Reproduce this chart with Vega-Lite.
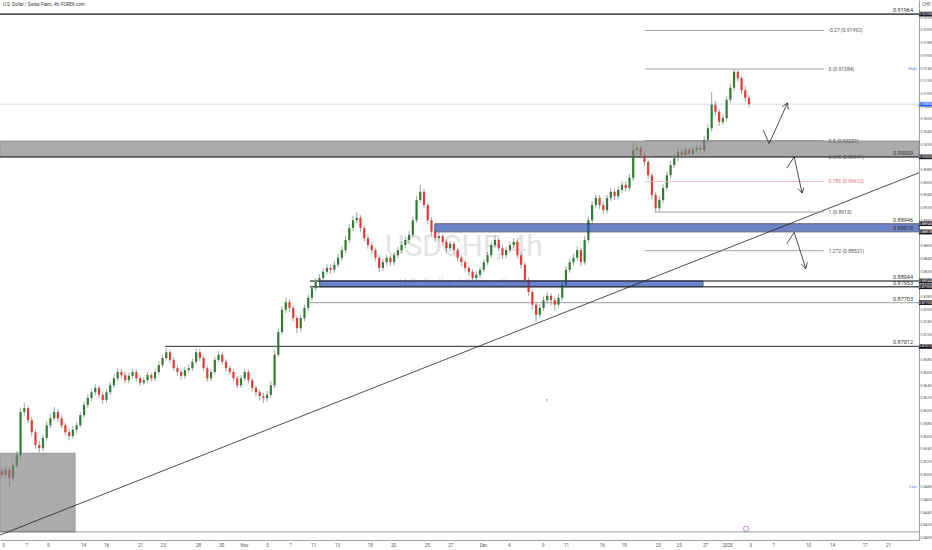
{
"$schema":"https://vega.github.io/schema/vega-lite/v6.json",
"width":919,"height":540,
"autosize":{"type":"none"},
"padding":{"left":0,"top":0,"right":13,"bottom":10},
"background":"#ffffff",
"resolve":{"scale":{"color":"independent","size":"independent","strokeDash":"independent"}},
"config":{"view":{"stroke":null},"font":"Roboto",
 "axis":{"grid":false,"ticks":false,"labelColor":"#555555","domainColor":"#888888","domainWidth":0.8,"labelOverlap":false,"labelFlush":false,"labelFontSize":4.5,"labelPadding":2},
 "axisY":{"labelFontSize":3.5,"labelPadding":1,"titleAngle":0,"titleFontSize":4.5,"titleFontWeight":"normal","titleColor":"#555555","titleX":7,"titleY":4,"titleAlign":"center","titleBaseline":"middle"}},
"datasets":{
"candles":[
{"i":0,"o":0.8505,"h":0.8510,"l":0.8494,"c":0.8499},
{"i":1,"o":0.8499,"h":0.8512,"l":0.8493,"c":0.8507},
{"i":2,"o":0.8507,"h":0.8510,"l":0.8480,"c":0.8494},
{"i":3,"o":0.8494,"h":0.8518,"l":0.8490,"c":0.8514},
{"i":4,"o":0.8514,"h":0.8536,"l":0.8510,"c":0.8530},
{"i":5,"o":0.8530,"h":0.8605,"l":0.8526,"c":0.8598},
{"i":6,"o":0.8598,"h":0.8612,"l":0.8592,"c":0.8604},
{"i":7,"o":0.8604,"h":0.8608,"l":0.8580,"c":0.8585},
{"i":8,"o":0.8585,"h":0.8590,"l":0.8560,"c":0.8566},
{"i":9,"o":0.8566,"h":0.8570,"l":0.8540,"c":0.8546},
{"i":10,"o":0.8546,"h":0.8552,"l":0.8534,"c":0.8541},
{"i":11,"o":0.8541,"h":0.8562,"l":0.8536,"c":0.8557},
{"i":12,"o":0.8557,"h":0.8583,"l":0.8553,"c":0.8577},
{"i":13,"o":0.8577,"h":0.8594,"l":0.8572,"c":0.8588},
{"i":14,"o":0.8588,"h":0.8606,"l":0.8584,"c":0.8598},
{"i":15,"o":0.8598,"h":0.8602,"l":0.8582,"c":0.8588},
{"i":16,"o":0.8588,"h":0.8592,"l":0.8572,"c":0.8577},
{"i":17,"o":0.8577,"h":0.8581,"l":0.8561,"c":0.8566},
{"i":18,"o":0.8566,"h":0.8571,"l":0.8553,"c":0.8560},
{"i":19,"o":0.8560,"h":0.8576,"l":0.8556,"c":0.8570},
{"i":20,"o":0.8570,"h":0.8582,"l":0.8565,"c":0.8577},
{"i":21,"o":0.8577,"h":0.8598,"l":0.8573,"c":0.8593},
{"i":22,"o":0.8593,"h":0.8614,"l":0.8589,"c":0.8609},
{"i":23,"o":0.8609,"h":0.8626,"l":0.8604,"c":0.8620},
{"i":24,"o":0.8620,"h":0.8635,"l":0.8615,"c":0.8629},
{"i":25,"o":0.8629,"h":0.8642,"l":0.8624,"c":0.8636},
{"i":26,"o":0.8636,"h":0.8640,"l":0.8620,"c":0.8625},
{"i":27,"o":0.8625,"h":0.8630,"l":0.8611,"c":0.8617},
{"i":28,"o":0.8617,"h":0.8634,"l":0.8613,"c":0.8629},
{"i":29,"o":0.8629,"h":0.8645,"l":0.8625,"c":0.8640},
{"i":30,"o":0.8640,"h":0.8657,"l":0.8636,"c":0.8651},
{"i":31,"o":0.8651,"h":0.8667,"l":0.8647,"c":0.8661},
{"i":32,"o":0.8661,"h":0.8666,"l":0.8650,"c":0.8656},
{"i":33,"o":0.8656,"h":0.8661,"l":0.8643,"c":0.8648},
{"i":34,"o":0.8648,"h":0.8660,"l":0.8643,"c":0.8655},
{"i":35,"o":0.8655,"h":0.8666,"l":0.8650,"c":0.8661},
{"i":36,"o":0.8661,"h":0.8665,"l":0.8646,"c":0.8651},
{"i":37,"o":0.8651,"h":0.8656,"l":0.8639,"c":0.8644},
{"i":38,"o":0.8644,"h":0.8653,"l":0.8640,"c":0.8648},
{"i":39,"o":0.8648,"h":0.8661,"l":0.8644,"c":0.8656},
{"i":40,"o":0.8656,"h":0.8660,"l":0.8646,"c":0.8651},
{"i":41,"o":0.8651,"h":0.8666,"l":0.8647,"c":0.8661},
{"i":42,"o":0.8661,"h":0.8677,"l":0.8657,"c":0.8672},
{"i":43,"o":0.8672,"h":0.8688,"l":0.8668,"c":0.8683},
{"i":44,"o":0.8683,"h":0.8699,"l":0.8679,"c":0.8692},
{"i":45,"o":0.8692,"h":0.8696,"l":0.8675,"c":0.8680},
{"i":46,"o":0.8680,"h":0.8684,"l":0.8662,"c":0.8667},
{"i":47,"o":0.8667,"h":0.8671,"l":0.8655,"c":0.8661},
{"i":48,"o":0.8661,"h":0.8665,"l":0.8649,"c":0.8655},
{"i":49,"o":0.8655,"h":0.8669,"l":0.8651,"c":0.8664},
{"i":50,"o":0.8664,"h":0.8673,"l":0.8659,"c":0.8667},
{"i":51,"o":0.8667,"h":0.8682,"l":0.8663,"c":0.8677},
{"i":52,"o":0.8677,"h":0.8698,"l":0.8673,"c":0.8692},
{"i":53,"o":0.8692,"h":0.8697,"l":0.8678,"c":0.8683},
{"i":54,"o":0.8683,"h":0.8687,"l":0.8662,"c":0.8667},
{"i":55,"o":0.8667,"h":0.8671,"l":0.8646,"c":0.8651},
{"i":56,"o":0.8651,"h":0.8666,"l":0.8647,"c":0.8661},
{"i":57,"o":0.8661,"h":0.8685,"l":0.8657,"c":0.8680},
{"i":58,"o":0.8680,"h":0.8694,"l":0.8676,"c":0.8688},
{"i":59,"o":0.8688,"h":0.8692,"l":0.8672,"c":0.8677},
{"i":60,"o":0.8677,"h":0.8681,"l":0.8662,"c":0.8667},
{"i":61,"o":0.8667,"h":0.8671,"l":0.8656,"c":0.8661},
{"i":62,"o":0.8661,"h":0.8665,"l":0.8646,"c":0.8651},
{"i":63,"o":0.8651,"h":0.8655,"l":0.8635,"c":0.8640},
{"i":64,"o":0.8640,"h":0.8656,"l":0.8636,"c":0.8651},
{"i":65,"o":0.8651,"h":0.8666,"l":0.8647,"c":0.8661},
{"i":66,"o":0.8661,"h":0.8665,"l":0.8643,"c":0.8648},
{"i":67,"o":0.8648,"h":0.8652,"l":0.8630,"c":0.8636},
{"i":68,"o":0.8636,"h":0.8640,"l":0.8623,"c":0.8629},
{"i":69,"o":0.8629,"h":0.8633,"l":0.8616,"c":0.8623},
{"i":70,"o":0.8623,"h":0.8628,"l":0.8612,"c":0.8620},
{"i":71,"o":0.8620,"h":0.8631,"l":0.8614,"c":0.8625},
{"i":72,"o":0.8625,"h":0.8646,"l":0.8621,"c":0.8640},
{"i":73,"o":0.8640,"h":0.8695,"l":0.8636,"c":0.8688},
{"i":74,"o":0.8688,"h":0.8730,"l":0.8684,"c":0.8724},
{"i":75,"o":0.8724,"h":0.8765,"l":0.8720,"c":0.8759},
{"i":76,"o":0.8759,"h":0.8778,"l":0.8754,"c":0.8771},
{"i":77,"o":0.8771,"h":0.8776,"l":0.8755,"c":0.8762},
{"i":78,"o":0.8762,"h":0.8766,"l":0.8740,"c":0.8746},
{"i":79,"o":0.8746,"h":0.8750,"l":0.8722,"c":0.8730},
{"i":80,"o":0.8730,"h":0.8751,"l":0.8725,"c":0.8746},
{"i":81,"o":0.8746,"h":0.8767,"l":0.8741,"c":0.8762},
{"i":82,"o":0.8762,"h":0.8783,"l":0.8757,"c":0.8778},
{"i":83,"o":0.8778,"h":0.8798,"l":0.8773,"c":0.8793},
{"i":84,"o":0.8793,"h":0.8809,"l":0.8789,"c":0.8803},
{"i":85,"o":0.8803,"h":0.8815,"l":0.8798,"c":0.8809},
{"i":86,"o":0.8809,"h":0.8825,"l":0.8804,"c":0.8819},
{"i":87,"o":0.8819,"h":0.8831,"l":0.8814,"c":0.8825},
{"i":88,"o":0.8825,"h":0.8830,"l":0.8816,"c":0.8822},
{"i":89,"o":0.8822,"h":0.8836,"l":0.8817,"c":0.8830},
{"i":90,"o":0.8830,"h":0.8847,"l":0.8826,"c":0.8841},
{"i":91,"o":0.8841,"h":0.8859,"l":0.8836,"c":0.8853},
{"i":92,"o":0.8853,"h":0.8875,"l":0.8848,"c":0.8869},
{"i":93,"o":0.8869,"h":0.8894,"l":0.8864,"c":0.8888},
{"i":94,"o":0.8888,"h":0.8907,"l":0.8883,"c":0.8900},
{"i":95,"o":0.8900,"h":0.8913,"l":0.8895,"c":0.8904},
{"i":96,"o":0.8904,"h":0.8908,"l":0.8882,"c":0.8888},
{"i":97,"o":0.8888,"h":0.8892,"l":0.8866,"c":0.8872},
{"i":98,"o":0.8872,"h":0.8877,"l":0.8855,"c":0.8861},
{"i":99,"o":0.8861,"h":0.8866,"l":0.8847,"c":0.8853},
{"i":100,"o":0.8853,"h":0.8857,"l":0.8835,"c":0.8841},
{"i":101,"o":0.8841,"h":0.8845,"l":0.8818,"c":0.8825},
{"i":102,"o":0.8825,"h":0.8839,"l":0.8820,"c":0.8834},
{"i":103,"o":0.8834,"h":0.8846,"l":0.8829,"c":0.8841},
{"i":104,"o":0.8841,"h":0.8845,"l":0.8828,"c":0.8834},
{"i":105,"o":0.8834,"h":0.8850,"l":0.8829,"c":0.8845},
{"i":106,"o":0.8845,"h":0.8858,"l":0.8840,"c":0.8853},
{"i":107,"o":0.8853,"h":0.8866,"l":0.8848,"c":0.8861},
{"i":108,"o":0.8861,"h":0.8874,"l":0.8856,"c":0.8869},
{"i":109,"o":0.8869,"h":0.8883,"l":0.8864,"c":0.8877},
{"i":110,"o":0.8877,"h":0.8906,"l":0.8873,"c":0.8900},
{"i":111,"o":0.8900,"h":0.8938,"l":0.8896,"c":0.8932},
{"i":112,"o":0.8932,"h":0.8956,"l":0.8928,"c":0.8945},
{"i":113,"o":0.8945,"h":0.8950,"l":0.8919,"c":0.8924},
{"i":114,"o":0.8924,"h":0.8928,"l":0.8894,"c":0.8900},
{"i":115,"o":0.8900,"h":0.8905,"l":0.8876,"c":0.8882},
{"i":116,"o":0.8882,"h":0.8887,"l":0.8866,"c":0.8872},
{"i":117,"o":0.8872,"h":0.8881,"l":0.8867,"c":0.8875},
{"i":118,"o":0.8875,"h":0.8879,"l":0.8860,"c":0.8866},
{"i":119,"o":0.8866,"h":0.8870,"l":0.8850,"c":0.8856},
{"i":120,"o":0.8856,"h":0.8868,"l":0.8851,"c":0.8863},
{"i":121,"o":0.8863,"h":0.8867,"l":0.8847,"c":0.8853},
{"i":122,"o":0.8853,"h":0.8857,"l":0.8835,"c":0.8841},
{"i":123,"o":0.8841,"h":0.8845,"l":0.8828,"c":0.8834},
{"i":124,"o":0.8834,"h":0.8838,"l":0.8819,"c":0.8825},
{"i":125,"o":0.8825,"h":0.8829,"l":0.8813,"c":0.8819},
{"i":126,"o":0.8819,"h":0.8823,"l":0.8803,"c":0.8809},
{"i":127,"o":0.8809,"h":0.8820,"l":0.8804,"c":0.8814},
{"i":128,"o":0.8814,"h":0.8827,"l":0.8809,"c":0.8822},
{"i":129,"o":0.8822,"h":0.8839,"l":0.8818,"c":0.8834},
{"i":130,"o":0.8834,"h":0.8850,"l":0.8830,"c":0.8845},
{"i":131,"o":0.8845,"h":0.8866,"l":0.8841,"c":0.8861},
{"i":132,"o":0.8861,"h":0.8876,"l":0.8856,"c":0.8869},
{"i":133,"o":0.8869,"h":0.8873,"l":0.8851,"c":0.8856},
{"i":134,"o":0.8856,"h":0.8860,"l":0.8839,"c":0.8845},
{"i":135,"o":0.8845,"h":0.8858,"l":0.8840,"c":0.8853},
{"i":136,"o":0.8853,"h":0.8866,"l":0.8848,"c":0.8861},
{"i":137,"o":0.8861,"h":0.8872,"l":0.8856,"c":0.8866},
{"i":138,"o":0.8866,"h":0.8870,"l":0.8840,"c":0.8845},
{"i":139,"o":0.8845,"h":0.8849,"l":0.8824,"c":0.8830},
{"i":140,"o":0.8830,"h":0.8834,"l":0.8800,"c":0.8806},
{"i":141,"o":0.8806,"h":0.8810,"l":0.8781,"c":0.8787},
{"i":142,"o":0.8787,"h":0.8791,"l":0.8760,"c":0.8767},
{"i":143,"o":0.8767,"h":0.8771,"l":0.8740,"c":0.8751},
{"i":144,"o":0.8751,"h":0.8768,"l":0.8746,"c":0.8762},
{"i":145,"o":0.8762,"h":0.8780,"l":0.8757,"c":0.8774},
{"i":146,"o":0.8774,"h":0.8787,"l":0.8769,"c":0.8781},
{"i":147,"o":0.8781,"h":0.8785,"l":0.8766,"c":0.8774},
{"i":148,"o":0.8774,"h":0.8778,"l":0.8758,"c":0.8767},
{"i":149,"o":0.8767,"h":0.8784,"l":0.8762,"c":0.8778},
{"i":150,"o":0.8778,"h":0.8804,"l":0.8773,"c":0.8798},
{"i":151,"o":0.8798,"h":0.8828,"l":0.8794,"c":0.8822},
{"i":152,"o":0.8822,"h":0.8840,"l":0.8817,"c":0.8834},
{"i":153,"o":0.8834,"h":0.8847,"l":0.8829,"c":0.8841},
{"i":154,"o":0.8841,"h":0.8859,"l":0.8836,"c":0.8853},
{"i":155,"o":0.8853,"h":0.8857,"l":0.8828,"c":0.8834},
{"i":156,"o":0.8834,"h":0.8875,"l":0.8830,"c":0.8869},
{"i":157,"o":0.8869,"h":0.8906,"l":0.8864,"c":0.8900},
{"i":158,"o":0.8900,"h":0.8930,"l":0.8895,"c":0.8924},
{"i":159,"o":0.8924,"h":0.8941,"l":0.8919,"c":0.8935},
{"i":160,"o":0.8935,"h":0.8940,"l":0.8918,"c":0.8924},
{"i":161,"o":0.8924,"h":0.8929,"l":0.8910,"c":0.8916},
{"i":162,"o":0.8916,"h":0.8940,"l":0.8911,"c":0.8935},
{"i":163,"o":0.8935,"h":0.8951,"l":0.8930,"c":0.8945},
{"i":164,"o":0.8945,"h":0.8950,"l":0.8932,"c":0.8938},
{"i":165,"o":0.8938,"h":0.8954,"l":0.8933,"c":0.8948},
{"i":166,"o":0.8948,"h":0.8962,"l":0.8943,"c":0.8956},
{"i":167,"o":0.8956,"h":0.8961,"l":0.8945,"c":0.8951},
{"i":168,"o":0.8951,"h":0.8973,"l":0.8946,"c":0.8967},
{"i":169,"o":0.8967,"h":0.9022,"l":0.8962,"c":0.9011},
{"i":170,"o":0.9011,"h":0.9020,"l":0.9004,"c":0.9014},
{"i":171,"o":0.9014,"h":0.9018,"l":0.8997,"c":0.9003},
{"i":172,"o":0.9003,"h":0.9008,"l":0.8986,"c":0.8992},
{"i":173,"o":0.8992,"h":0.8996,"l":0.8965,"c":0.8971},
{"i":174,"o":0.8971,"h":0.8975,"l":0.8933,"c":0.8940},
{"i":175,"o":0.8940,"h":0.8945,"l":0.8913,"c":0.8919},
{"i":176,"o":0.8919,"h":0.8938,"l":0.8914,"c":0.8932},
{"i":177,"o":0.8932,"h":0.8957,"l":0.8927,"c":0.8951},
{"i":178,"o":0.8951,"h":0.8977,"l":0.8946,"c":0.8971},
{"i":179,"o":0.8971,"h":0.8993,"l":0.8966,"c":0.8987},
{"i":180,"o":0.8987,"h":0.9004,"l":0.8982,"c":0.8998},
{"i":181,"o":0.8998,"h":0.9014,"l":0.8993,"c":0.9008},
{"i":182,"o":0.9008,"h":0.9013,"l":0.8997,"c":0.9003},
{"i":183,"o":0.9003,"h":0.9016,"l":0.8998,"c":0.9011},
{"i":184,"o":0.9011,"h":0.9015,"l":0.8999,"c":0.9005},
{"i":185,"o":0.9005,"h":0.9016,"l":0.9000,"c":0.9011},
{"i":186,"o":0.9011,"h":0.9019,"l":0.9006,"c":0.9014},
{"i":187,"o":0.9014,"h":0.9018,"l":0.9005,"c":0.9011},
{"i":188,"o":0.9011,"h":0.9033,"l":0.9006,"c":0.9027},
{"i":189,"o":0.9027,"h":0.9051,"l":0.9022,"c":0.9045},
{"i":190,"o":0.9045,"h":0.9102,"l":0.9040,"c":0.9082},
{"i":191,"o":0.9082,"h":0.9088,"l":0.9065,"c":0.9071},
{"i":192,"o":0.9071,"h":0.9075,"l":0.9049,"c":0.9055},
{"i":193,"o":0.9055,"h":0.9067,"l":0.9050,"c":0.9061},
{"i":194,"o":0.9061,"h":0.9096,"l":0.9056,"c":0.9090},
{"i":195,"o":0.9090,"h":0.9115,"l":0.9085,"c":0.9109},
{"i":196,"o":0.9109,"h":0.9138,"l":0.9104,"c":0.9134},
{"i":197,"o":0.9134,"h":0.9137,"l":0.9118,"c":0.9124},
{"i":198,"o":0.9124,"h":0.9128,"l":0.9099,"c":0.9105},
{"i":199,"o":0.9105,"h":0.9112,"l":0.9087,"c":0.9093},
{"i":200,"o":0.9093,"h":0.9098,"l":0.9078,"c":0.9083}
],
"grayZones":[{"i1":-0.5,"i2":245.5,"p1":0.9025,"p2":0.9},{"i1":-0.5,"i2":19.6,"p1":0.8533,"p2":0.8409}],
"blueZones":[{"i1":115.9,"i2":245.5,"p1":0.88946,"p2":0.88818},{"i1":85.1,"i2":187.7,"p1":0.88044,"p2":0.87953}],
"levels":[
{"kind":"top","p":0.9225,"i1":-0.5,"i2":245.5},
{"kind":"black","p":0.9,"i1":-0.5,"i2":245.5},
{"kind":"dark","p":0.88044,"i1":82.5,"i2":245.5},
{"kind":"dark","p":0.87953,"i1":82.5,"i2":245.5},
{"kind":"dark","p":0.87012,"i1":43.7,"i2":245.5},
{"kind":"light","p":0.87703,"i1":82.5,"i2":245.5},
{"kind":"light","p":0.8409,"i1":-0.5,"i2":245.5},
{"kind":"price","p":0.9083,"i1":-0.5,"i2":245.5}
],
"trend":[{"i":-0.5,"p":0.8404},{"i":245.5,"p":0.8975}],
"fib":[
{"lvl":-0.27,"p":0.91992,"i1":172.1,"i2":220,"li":221.3,"t":"-0.27 (0.91992)"},
{"lvl":0,"p":0.91384,"i1":172.1,"i2":220,"li":221.3,"t":"0 (0.91384)"},
{"lvl":0.5,"p":0.90257,"i1":172.1,"i2":220,"li":221.3,"t":"0.5 (0.90257)"},
{"lvl":0.618,"p":0.89991,"i1":172.1,"i2":220,"li":221.3,"t":"0.618 (0.89991)"},
{"lvl":0.786,"p":0.89612,"i1":172.1,"i2":220,"li":221.3,"t":"0.786 (0.89612)"},
{"lvl":1,"p":0.8913,"i1":174.8,"i2":220,"li":221.3,"t":"1 (0.8913)"},
{"lvl":1.272,"p":0.88521,"i1":172.1,"i2":220,"li":221.3,"t":"1.272 (0.88521)"}
],
"arrows":[
{"g":"a1","o":0,"i":203.8,"p":0.9042},{"g":"a1","o":1,"i":205.4,"p":0.9021},{"g":"a1","o":2,"i":210.3,"p":0.9085},
{"g":"a1h","o":0,"i":208.9,"p":0.9079},{"g":"a1h","o":1,"i":210.3,"p":0.9085},{"g":"a1h","o":2,"i":210.5,"p":0.9075},
{"g":"a2","o":0,"i":210.1,"p":0.8982},{"g":"a2","o":1,"i":212.1,"p":0.9000},{"g":"a2","o":2,"i":214.2,"p":0.8943},
{"g":"a2h","o":0,"i":214.7,"p":0.8952},{"g":"a2h","o":1,"i":214.2,"p":0.8943},{"g":"a2h","o":2,"i":213.1,"p":0.8950},
{"g":"a3","o":0,"i":210.1,"p":0.8863},{"g":"a3","o":1,"i":212.1,"p":0.8881},{"g":"a3","o":2,"i":215.2,"p":0.8824},
{"g":"a3h","o":0,"i":215.6,"p":0.8834},{"g":"a3h","o":1,"i":215.2,"p":0.8824},{"g":"a3h","o":2,"i":214.0,"p":0.8831}
],
"levelLabels":[
{"i":243.9,"p":0.9225,"t":"0.91964"},
{"i":243.9,"p":0.9,"t":"0.90000"},
{"i":243.9,"p":0.88946,"t":"0.88946"},
{"i":243.9,"p":0.88818,"t":"0.88818"},
{"i":243.9,"p":0.88044,"t":"0.88044"},
{"i":243.9,"p":0.87953,"t":"0.87953"},
{"i":243.9,"p":0.87703,"t":"0.87703"},
{"i":243.9,"p":0.87012,"t":"0.87012"}
],
"tags":[
{"kind":"level","i":247.2,"p":0.9225,"t":"0.92250"},
{"kind":"level","i":247.2,"p":0.9,"t":"0.90000"},
{"kind":"level","i":247.2,"p":0.88946,"t":"0.88946"},
{"kind":"level","i":247.2,"p":0.88818,"t":"0.88818"},
{"kind":"level","i":247.2,"p":0.88044,"t":"0.88044"},
{"kind":"level","i":247.2,"p":0.87953,"t":"0.87953"},
{"kind":"level","i":247.2,"p":0.87703,"t":"0.87703"},
{"kind":"level","i":247.2,"p":0.87012,"t":"0.87012"},
{"kind":"price","i":247.2,"p":0.9083,"t":"0.90830"}
],
"hiLo":[{"i":244.9,"p":0.91384,"t":"High"},{"i":244.9,"p":0.848,"t":"Low"}],
"header":[{"i":0.3,"p":0.92393,"t":"U.S. Dollar / Swiss Franc, 4h, FOREX.com"}],
"watermark":[{"kind":"big","i":123.7,"p":0.8858,"t":"USDCHF, 4h"},{"kind":"small","i":123.7,"p":0.8801,"t":"U.S. Dollar / Swiss Franc"}],
"marks":[{"i":145.9,"p":0.8617}],
"icon":[{"i":199.2,"p":0.8414}]
},
"layer":[
{"data":{"name":"watermark"},"mark":{"type":"text","color":"#e3e3e3","align":"center","baseline":"middle"},
 "encoding":{
  "x":{"field":"i","type":"quantitative","scale":{"domain":[-0.5,245.5],"nice":false,"zero":false,"padding":0},"axis":{"orient":"bottom","title":null,"values":[0.3,6.5,12.3,21.7,27.9,37,43.1,52.5,58.7,64.8,71,77.1,83.3,89.7,98.5,104.7,113.8,120,128.8,135.7,144.8,151,160.6,166.5,175.6,181.2,188.2,194.1,200.3,206.4,215.8,222.2,231,237.2],"labelExpr":"['3','7','9','14','16','21','23','28','30','Nov','5','7','11','13','18','20','25','27','Dec','4','9','11','16','18','23','25','27','2025','3','7','10','14','17','21'][indexof([0.3,6.5,12.3,21.7,27.9,37,43.1,52.5,58.7,64.8,71,77.1,83.3,89.7,98.5,104.7,113.8,120,128.8,135.7,144.8,151,160.6,166.5,175.6,181.2,188.2,194.1,200.3,206.4,215.8,222.2,231,237.2], datum.value)]"}},
  "y":{"field":"p","type":"quantitative","scale":{"domain":[0.83962,0.92472],"nice":false,"zero":false,"padding":0},"axis":{"orient":"right","title":"CHF","format":".5f","values":[0.840,0.842,0.844,0.846,0.848,0.850,0.852,0.854,0.856,0.858,0.860,0.862,0.864,0.866,0.868,0.870,0.872,0.874,0.876,0.878,0.880,0.882,0.884,0.886,0.888,0.890,0.892,0.894,0.896,0.898,0.900,0.902,0.904,0.906,0.908,0.910,0.912,0.914,0.916,0.918,0.920,0.922]}},
  "text":{"field":"t"},
  "size":{"field":"kind","type":"nominal","scale":{"domain":["big","small"],"range":[30,12]},"legend":null}}},
{"data":{"name":"levels"},"mark":{"type":"rule"},
 "encoding":{
  "x":{"field":"i1","type":"quantitative","scale":{"domain":[-0.5,245.5],"nice":false,"zero":false,"padding":0},"axis":{"orient":"bottom","title":null,"values":[0.3,6.5,12.3,21.7,27.9,37,43.1,52.5,58.7,64.8,71,77.1,83.3,89.7,98.5,104.7,113.8,120,128.8,135.7,144.8,151,160.6,166.5,175.6,181.2,188.2,194.1,200.3,206.4,215.8,222.2,231,237.2],"labelExpr":"['3','7','9','14','16','21','23','28','30','Nov','5','7','11','13','18','20','25','27','Dec','4','9','11','16','18','23','25','27','2025','3','7','10','14','17','21'][indexof([0.3,6.5,12.3,21.7,27.9,37,43.1,52.5,58.7,64.8,71,77.1,83.3,89.7,98.5,104.7,113.8,120,128.8,135.7,144.8,151,160.6,166.5,175.6,181.2,188.2,194.1,200.3,206.4,215.8,222.2,231,237.2], datum.value)]"}},
  "x2":{"field":"i2"},
  "y":{"field":"p","type":"quantitative","scale":{"domain":[0.83962,0.92472],"nice":false,"zero":false,"padding":0},"axis":{"orient":"right","title":"CHF","format":".5f","values":[0.840,0.842,0.844,0.846,0.848,0.850,0.852,0.854,0.856,0.858,0.860,0.862,0.864,0.866,0.868,0.870,0.872,0.874,0.876,0.878,0.880,0.882,0.884,0.886,0.888,0.890,0.892,0.894,0.896,0.898,0.900,0.902,0.904,0.906,0.908,0.910,0.912,0.914,0.916,0.918,0.920,0.922]}},
  "color":{"field":"kind","type":"nominal","scale":{"domain":["top","black","dark","light","price"],"range":["#555555","#111111","#555555","#b0b0b0","#aab6de"]},"legend":null},
  "size":{"field":"kind","type":"nominal","scale":{"domain":["top","black","dark","light","price"],"range":[1.6,1,0.8,0.8,0.8]},"legend":null},
  "strokeDash":{"field":"kind","type":"nominal","scale":{"domain":["top","black","dark","light","price"],"range":[[1,0],[1,0],[1,0],[1,0],[1,1]]},"legend":null}}},
{"data":{"name":"candles"},"mark":{"type":"rule","strokeWidth":0.8,"color":"#8c8c8c"},
 "encoding":{
  "x":{"field":"i","type":"quantitative","scale":{"domain":[-0.5,245.5],"nice":false,"zero":false,"padding":0},"axis":{"orient":"bottom","title":null,"values":[0.3,6.5,12.3,21.7,27.9,37,43.1,52.5,58.7,64.8,71,77.1,83.3,89.7,98.5,104.7,113.8,120,128.8,135.7,144.8,151,160.6,166.5,175.6,181.2,188.2,194.1,200.3,206.4,215.8,222.2,231,237.2],"labelExpr":"['3','7','9','14','16','21','23','28','30','Nov','5','7','11','13','18','20','25','27','Dec','4','9','11','16','18','23','25','27','2025','3','7','10','14','17','21'][indexof([0.3,6.5,12.3,21.7,27.9,37,43.1,52.5,58.7,64.8,71,77.1,83.3,89.7,98.5,104.7,113.8,120,128.8,135.7,144.8,151,160.6,166.5,175.6,181.2,188.2,194.1,200.3,206.4,215.8,222.2,231,237.2], datum.value)]"}},
  "y":{"field":"l","type":"quantitative","scale":{"domain":[0.83962,0.92472],"nice":false,"zero":false,"padding":0},"axis":{"orient":"right","title":"CHF","format":".5f","values":[0.840,0.842,0.844,0.846,0.848,0.850,0.852,0.854,0.856,0.858,0.860,0.862,0.864,0.866,0.868,0.870,0.872,0.874,0.876,0.878,0.880,0.882,0.884,0.886,0.888,0.890,0.892,0.894,0.896,0.898,0.900,0.902,0.904,0.906,0.908,0.910,0.912,0.914,0.916,0.918,0.920,0.922]}},
  "y2":{"field":"h"}}},
{"data":{"name":"candles"},"mark":{"type":"bar","size":2.2,"orient":"vertical"},
 "encoding":{
  "x":{"field":"i","type":"quantitative","scale":{"domain":[-0.5,245.5],"nice":false,"zero":false,"padding":0},"axis":{"orient":"bottom","title":null,"values":[0.3,6.5,12.3,21.7,27.9,37,43.1,52.5,58.7,64.8,71,77.1,83.3,89.7,98.5,104.7,113.8,120,128.8,135.7,144.8,151,160.6,166.5,175.6,181.2,188.2,194.1,200.3,206.4,215.8,222.2,231,237.2],"labelExpr":"['3','7','9','14','16','21','23','28','30','Nov','5','7','11','13','18','20','25','27','Dec','4','9','11','16','18','23','25','27','2025','3','7','10','14','17','21'][indexof([0.3,6.5,12.3,21.7,27.9,37,43.1,52.5,58.7,64.8,71,77.1,83.3,89.7,98.5,104.7,113.8,120,128.8,135.7,144.8,151,160.6,166.5,175.6,181.2,188.2,194.1,200.3,206.4,215.8,222.2,231,237.2], datum.value)]"}},
  "y":{"field":"o","type":"quantitative","scale":{"domain":[0.83962,0.92472],"nice":false,"zero":false,"padding":0},"axis":{"orient":"right","title":"CHF","format":".5f","values":[0.840,0.842,0.844,0.846,0.848,0.850,0.852,0.854,0.856,0.858,0.860,0.862,0.864,0.866,0.868,0.870,0.872,0.874,0.876,0.878,0.880,0.882,0.884,0.886,0.888,0.890,0.892,0.894,0.896,0.898,0.900,0.902,0.904,0.906,0.908,0.910,0.912,0.914,0.916,0.918,0.920,0.922]}},
  "y2":{"field":"c"},
  "color":{"condition":{"test":"datum.c >= datum.o","value":"#2e7d32"},"value":"#e53935"}}},
{"data":{"name":"grayZones"},"mark":{"type":"rect","color":"#808080","opacity":0.66,"stroke":"#555555","strokeWidth":0.8},
 "encoding":{
  "x":{"field":"i1","type":"quantitative","scale":{"domain":[-0.5,245.5],"nice":false,"zero":false,"padding":0},"axis":{"orient":"bottom","title":null,"values":[0.3,6.5,12.3,21.7,27.9,37,43.1,52.5,58.7,64.8,71,77.1,83.3,89.7,98.5,104.7,113.8,120,128.8,135.7,144.8,151,160.6,166.5,175.6,181.2,188.2,194.1,200.3,206.4,215.8,222.2,231,237.2],"labelExpr":"['3','7','9','14','16','21','23','28','30','Nov','5','7','11','13','18','20','25','27','Dec','4','9','11','16','18','23','25','27','2025','3','7','10','14','17','21'][indexof([0.3,6.5,12.3,21.7,27.9,37,43.1,52.5,58.7,64.8,71,77.1,83.3,89.7,98.5,104.7,113.8,120,128.8,135.7,144.8,151,160.6,166.5,175.6,181.2,188.2,194.1,200.3,206.4,215.8,222.2,231,237.2], datum.value)]"}},
  "x2":{"field":"i2"},
  "y":{"field":"p1","type":"quantitative","scale":{"domain":[0.83962,0.92472],"nice":false,"zero":false,"padding":0},"axis":{"orient":"right","title":"CHF","format":".5f","values":[0.840,0.842,0.844,0.846,0.848,0.850,0.852,0.854,0.856,0.858,0.860,0.862,0.864,0.866,0.868,0.870,0.872,0.874,0.876,0.878,0.880,0.882,0.884,0.886,0.888,0.890,0.892,0.894,0.896,0.898,0.900,0.902,0.904,0.906,0.908,0.910,0.912,0.914,0.916,0.918,0.920,0.922]}},
  "y2":{"field":"p2"}}},
{"data":{"name":"blueZones"},"mark":{"type":"rect","color":"#2f4fb0","opacity":0.7,"stroke":"#1a2040","strokeWidth":1},
 "encoding":{
  "x":{"field":"i1","type":"quantitative","scale":{"domain":[-0.5,245.5],"nice":false,"zero":false,"padding":0},"axis":{"orient":"bottom","title":null,"values":[0.3,6.5,12.3,21.7,27.9,37,43.1,52.5,58.7,64.8,71,77.1,83.3,89.7,98.5,104.7,113.8,120,128.8,135.7,144.8,151,160.6,166.5,175.6,181.2,188.2,194.1,200.3,206.4,215.8,222.2,231,237.2],"labelExpr":"['3','7','9','14','16','21','23','28','30','Nov','5','7','11','13','18','20','25','27','Dec','4','9','11','16','18','23','25','27','2025','3','7','10','14','17','21'][indexof([0.3,6.5,12.3,21.7,27.9,37,43.1,52.5,58.7,64.8,71,77.1,83.3,89.7,98.5,104.7,113.8,120,128.8,135.7,144.8,151,160.6,166.5,175.6,181.2,188.2,194.1,200.3,206.4,215.8,222.2,231,237.2], datum.value)]"}},
  "x2":{"field":"i2"},
  "y":{"field":"p1","type":"quantitative","scale":{"domain":[0.83962,0.92472],"nice":false,"zero":false,"padding":0},"axis":{"orient":"right","title":"CHF","format":".5f","values":[0.840,0.842,0.844,0.846,0.848,0.850,0.852,0.854,0.856,0.858,0.860,0.862,0.864,0.866,0.868,0.870,0.872,0.874,0.876,0.878,0.880,0.882,0.884,0.886,0.888,0.890,0.892,0.894,0.896,0.898,0.900,0.902,0.904,0.906,0.908,0.910,0.912,0.914,0.916,0.918,0.920,0.922]}},
  "y2":{"field":"p2"}}},
{"data":{"name":"trend"},"mark":{"type":"line","color":"#222222","strokeWidth":0.8},
 "encoding":{
  "x":{"field":"i","type":"quantitative","scale":{"domain":[-0.5,245.5],"nice":false,"zero":false,"padding":0},"axis":{"orient":"bottom","title":null,"values":[0.3,6.5,12.3,21.7,27.9,37,43.1,52.5,58.7,64.8,71,77.1,83.3,89.7,98.5,104.7,113.8,120,128.8,135.7,144.8,151,160.6,166.5,175.6,181.2,188.2,194.1,200.3,206.4,215.8,222.2,231,237.2],"labelExpr":"['3','7','9','14','16','21','23','28','30','Nov','5','7','11','13','18','20','25','27','Dec','4','9','11','16','18','23','25','27','2025','3','7','10','14','17','21'][indexof([0.3,6.5,12.3,21.7,27.9,37,43.1,52.5,58.7,64.8,71,77.1,83.3,89.7,98.5,104.7,113.8,120,128.8,135.7,144.8,151,160.6,166.5,175.6,181.2,188.2,194.1,200.3,206.4,215.8,222.2,231,237.2], datum.value)]"}},
  "y":{"field":"p","type":"quantitative","scale":{"domain":[0.83962,0.92472],"nice":false,"zero":false,"padding":0},"axis":{"orient":"right","title":"CHF","format":".5f","values":[0.840,0.842,0.844,0.846,0.848,0.850,0.852,0.854,0.856,0.858,0.860,0.862,0.864,0.866,0.868,0.870,0.872,0.874,0.876,0.878,0.880,0.882,0.884,0.886,0.888,0.890,0.892,0.894,0.896,0.898,0.900,0.902,0.904,0.906,0.908,0.910,0.912,0.914,0.916,0.918,0.920,0.922]}}}},
{"data":{"name":"fib"},"mark":{"type":"rule","strokeWidth":0.8},
 "encoding":{
  "x":{"field":"i1","type":"quantitative","scale":{"domain":[-0.5,245.5],"nice":false,"zero":false,"padding":0},"axis":{"orient":"bottom","title":null,"values":[0.3,6.5,12.3,21.7,27.9,37,43.1,52.5,58.7,64.8,71,77.1,83.3,89.7,98.5,104.7,113.8,120,128.8,135.7,144.8,151,160.6,166.5,175.6,181.2,188.2,194.1,200.3,206.4,215.8,222.2,231,237.2],"labelExpr":"['3','7','9','14','16','21','23','28','30','Nov','5','7','11','13','18','20','25','27','Dec','4','9','11','16','18','23','25','27','2025','3','7','10','14','17','21'][indexof([0.3,6.5,12.3,21.7,27.9,37,43.1,52.5,58.7,64.8,71,77.1,83.3,89.7,98.5,104.7,113.8,120,128.8,135.7,144.8,151,160.6,166.5,175.6,181.2,188.2,194.1,200.3,206.4,215.8,222.2,231,237.2], datum.value)]"}},
  "x2":{"field":"i2"},
  "y":{"field":"p","type":"quantitative","scale":{"domain":[0.83962,0.92472],"nice":false,"zero":false,"padding":0},"axis":{"orient":"right","title":"CHF","format":".5f","values":[0.840,0.842,0.844,0.846,0.848,0.850,0.852,0.854,0.856,0.858,0.860,0.862,0.864,0.866,0.868,0.870,0.872,0.874,0.876,0.878,0.880,0.882,0.884,0.886,0.888,0.890,0.892,0.894,0.896,0.898,0.900,0.902,0.904,0.906,0.908,0.910,0.912,0.914,0.916,0.918,0.920,0.922]}},
  "color":{"condition":{"test":"datum.lvl == 0.786","value":"#f4b4b4"},"value":"#8a8a8a"}}},
{"data":{"name":"fib"},"mark":{"type":"text","fontSize":5,"align":"left","baseline":"middle"},
 "encoding":{
  "x":{"field":"li","type":"quantitative","scale":{"domain":[-0.5,245.5],"nice":false,"zero":false,"padding":0},"axis":{"orient":"bottom","title":null,"values":[0.3,6.5,12.3,21.7,27.9,37,43.1,52.5,58.7,64.8,71,77.1,83.3,89.7,98.5,104.7,113.8,120,128.8,135.7,144.8,151,160.6,166.5,175.6,181.2,188.2,194.1,200.3,206.4,215.8,222.2,231,237.2],"labelExpr":"['3','7','9','14','16','21','23','28','30','Nov','5','7','11','13','18','20','25','27','Dec','4','9','11','16','18','23','25','27','2025','3','7','10','14','17','21'][indexof([0.3,6.5,12.3,21.7,27.9,37,43.1,52.5,58.7,64.8,71,77.1,83.3,89.7,98.5,104.7,113.8,120,128.8,135.7,144.8,151,160.6,166.5,175.6,181.2,188.2,194.1,200.3,206.4,215.8,222.2,231,237.2], datum.value)]"}},
  "y":{"field":"p","type":"quantitative","scale":{"domain":[0.83962,0.92472],"nice":false,"zero":false,"padding":0},"axis":{"orient":"right","title":"CHF","format":".5f","values":[0.840,0.842,0.844,0.846,0.848,0.850,0.852,0.854,0.856,0.858,0.860,0.862,0.864,0.866,0.868,0.870,0.872,0.874,0.876,0.878,0.880,0.882,0.884,0.886,0.888,0.890,0.892,0.894,0.896,0.898,0.900,0.902,0.904,0.906,0.908,0.910,0.912,0.914,0.916,0.918,0.920,0.922]}},
  "text":{"field":"t"},
  "color":{"condition":{"test":"datum.lvl == 0.786","value":"#e57373"},"value":"#555555"}}},
{"data":{"name":"arrows"},"mark":{"type":"line","color":"#222222","strokeWidth":0.8},
 "encoding":{
  "x":{"field":"i","type":"quantitative","scale":{"domain":[-0.5,245.5],"nice":false,"zero":false,"padding":0},"axis":{"orient":"bottom","title":null,"values":[0.3,6.5,12.3,21.7,27.9,37,43.1,52.5,58.7,64.8,71,77.1,83.3,89.7,98.5,104.7,113.8,120,128.8,135.7,144.8,151,160.6,166.5,175.6,181.2,188.2,194.1,200.3,206.4,215.8,222.2,231,237.2],"labelExpr":"['3','7','9','14','16','21','23','28','30','Nov','5','7','11','13','18','20','25','27','Dec','4','9','11','16','18','23','25','27','2025','3','7','10','14','17','21'][indexof([0.3,6.5,12.3,21.7,27.9,37,43.1,52.5,58.7,64.8,71,77.1,83.3,89.7,98.5,104.7,113.8,120,128.8,135.7,144.8,151,160.6,166.5,175.6,181.2,188.2,194.1,200.3,206.4,215.8,222.2,231,237.2], datum.value)]"}},
  "y":{"field":"p","type":"quantitative","scale":{"domain":[0.83962,0.92472],"nice":false,"zero":false,"padding":0},"axis":{"orient":"right","title":"CHF","format":".5f","values":[0.840,0.842,0.844,0.846,0.848,0.850,0.852,0.854,0.856,0.858,0.860,0.862,0.864,0.866,0.868,0.870,0.872,0.874,0.876,0.878,0.880,0.882,0.884,0.886,0.888,0.890,0.892,0.894,0.896,0.898,0.900,0.902,0.904,0.906,0.908,0.910,0.912,0.914,0.916,0.918,0.920,0.922]}},
  "detail":{"field":"g"},"order":{"field":"o"}}},
{"data":{"name":"levelLabels"},"mark":{"type":"text","fontSize":5.5,"align":"right","baseline":"bottom","dy":-1,"color":"#333333"},
 "encoding":{
  "x":{"field":"i","type":"quantitative","scale":{"domain":[-0.5,245.5],"nice":false,"zero":false,"padding":0},"axis":{"orient":"bottom","title":null,"values":[0.3,6.5,12.3,21.7,27.9,37,43.1,52.5,58.7,64.8,71,77.1,83.3,89.7,98.5,104.7,113.8,120,128.8,135.7,144.8,151,160.6,166.5,175.6,181.2,188.2,194.1,200.3,206.4,215.8,222.2,231,237.2],"labelExpr":"['3','7','9','14','16','21','23','28','30','Nov','5','7','11','13','18','20','25','27','Dec','4','9','11','16','18','23','25','27','2025','3','7','10','14','17','21'][indexof([0.3,6.5,12.3,21.7,27.9,37,43.1,52.5,58.7,64.8,71,77.1,83.3,89.7,98.5,104.7,113.8,120,128.8,135.7,144.8,151,160.6,166.5,175.6,181.2,188.2,194.1,200.3,206.4,215.8,222.2,231,237.2], datum.value)]"}},
  "y":{"field":"p","type":"quantitative","scale":{"domain":[0.83962,0.92472],"nice":false,"zero":false,"padding":0},"axis":{"orient":"right","title":"CHF","format":".5f","values":[0.840,0.842,0.844,0.846,0.848,0.850,0.852,0.854,0.856,0.858,0.860,0.862,0.864,0.866,0.868,0.870,0.872,0.874,0.876,0.878,0.880,0.882,0.884,0.886,0.888,0.890,0.892,0.894,0.896,0.898,0.900,0.902,0.904,0.906,0.908,0.910,0.912,0.914,0.916,0.918,0.920,0.922]}},
  "text":{"field":"t"}}},
{"data":{"name":"hiLo"},"mark":{"type":"text","fontSize":4,"align":"right","baseline":"middle","color":"#5b7de0"},
 "encoding":{
  "x":{"field":"i","type":"quantitative","scale":{"domain":[-0.5,245.5],"nice":false,"zero":false,"padding":0},"axis":{"orient":"bottom","title":null,"values":[0.3,6.5,12.3,21.7,27.9,37,43.1,52.5,58.7,64.8,71,77.1,83.3,89.7,98.5,104.7,113.8,120,128.8,135.7,144.8,151,160.6,166.5,175.6,181.2,188.2,194.1,200.3,206.4,215.8,222.2,231,237.2],"labelExpr":"['3','7','9','14','16','21','23','28','30','Nov','5','7','11','13','18','20','25','27','Dec','4','9','11','16','18','23','25','27','2025','3','7','10','14','17','21'][indexof([0.3,6.5,12.3,21.7,27.9,37,43.1,52.5,58.7,64.8,71,77.1,83.3,89.7,98.5,104.7,113.8,120,128.8,135.7,144.8,151,160.6,166.5,175.6,181.2,188.2,194.1,200.3,206.4,215.8,222.2,231,237.2], datum.value)]"}},
  "y":{"field":"p","type":"quantitative","scale":{"domain":[0.83962,0.92472],"nice":false,"zero":false,"padding":0},"axis":{"orient":"right","title":"CHF","format":".5f","values":[0.840,0.842,0.844,0.846,0.848,0.850,0.852,0.854,0.856,0.858,0.860,0.862,0.864,0.866,0.868,0.870,0.872,0.874,0.876,0.878,0.880,0.882,0.884,0.886,0.888,0.890,0.892,0.894,0.896,0.898,0.900,0.902,0.904,0.906,0.908,0.910,0.912,0.914,0.916,0.918,0.920,0.922]}},
  "text":{"field":"t"}}},
{"data":{"name":"tags"},"mark":{"type":"point","shape":"M-1,-0.36L1,-0.36L1,0.36L-1,0.36Z","size":169,"filled":true,"opacity":1},
 "encoding":{
  "x":{"field":"i","type":"quantitative","scale":{"domain":[-0.5,245.5],"nice":false,"zero":false,"padding":0},"axis":{"orient":"bottom","title":null,"values":[0.3,6.5,12.3,21.7,27.9,37,43.1,52.5,58.7,64.8,71,77.1,83.3,89.7,98.5,104.7,113.8,120,128.8,135.7,144.8,151,160.6,166.5,175.6,181.2,188.2,194.1,200.3,206.4,215.8,222.2,231,237.2],"labelExpr":"['3','7','9','14','16','21','23','28','30','Nov','5','7','11','13','18','20','25','27','Dec','4','9','11','16','18','23','25','27','2025','3','7','10','14','17','21'][indexof([0.3,6.5,12.3,21.7,27.9,37,43.1,52.5,58.7,64.8,71,77.1,83.3,89.7,98.5,104.7,113.8,120,128.8,135.7,144.8,151,160.6,166.5,175.6,181.2,188.2,194.1,200.3,206.4,215.8,222.2,231,237.2], datum.value)]"}},
  "y":{"field":"p","type":"quantitative","scale":{"domain":[0.83962,0.92472],"nice":false,"zero":false,"padding":0},"axis":{"orient":"right","title":"CHF","format":".5f","values":[0.840,0.842,0.844,0.846,0.848,0.850,0.852,0.854,0.856,0.858,0.860,0.862,0.864,0.866,0.868,0.870,0.872,0.874,0.876,0.878,0.880,0.882,0.884,0.886,0.888,0.890,0.892,0.894,0.896,0.898,0.900,0.902,0.904,0.906,0.908,0.910,0.912,0.914,0.916,0.918,0.920,0.922]}},
  "color":{"field":"kind","type":"nominal","scale":{"domain":["level","price"],"range":["#131722","#2962ff"]},"legend":null}}},
{"data":{"name":"tags"},"mark":{"type":"text","fontSize":3.6,"align":"center","baseline":"middle","color":"#ffffff"},
 "encoding":{
  "x":{"field":"i","type":"quantitative","scale":{"domain":[-0.5,245.5],"nice":false,"zero":false,"padding":0},"axis":{"orient":"bottom","title":null,"values":[0.3,6.5,12.3,21.7,27.9,37,43.1,52.5,58.7,64.8,71,77.1,83.3,89.7,98.5,104.7,113.8,120,128.8,135.7,144.8,151,160.6,166.5,175.6,181.2,188.2,194.1,200.3,206.4,215.8,222.2,231,237.2],"labelExpr":"['3','7','9','14','16','21','23','28','30','Nov','5','7','11','13','18','20','25','27','Dec','4','9','11','16','18','23','25','27','2025','3','7','10','14','17','21'][indexof([0.3,6.5,12.3,21.7,27.9,37,43.1,52.5,58.7,64.8,71,77.1,83.3,89.7,98.5,104.7,113.8,120,128.8,135.7,144.8,151,160.6,166.5,175.6,181.2,188.2,194.1,200.3,206.4,215.8,222.2,231,237.2], datum.value)]"}},
  "y":{"field":"p","type":"quantitative","scale":{"domain":[0.83962,0.92472],"nice":false,"zero":false,"padding":0},"axis":{"orient":"right","title":"CHF","format":".5f","values":[0.840,0.842,0.844,0.846,0.848,0.850,0.852,0.854,0.856,0.858,0.860,0.862,0.864,0.866,0.868,0.870,0.872,0.874,0.876,0.878,0.880,0.882,0.884,0.886,0.888,0.890,0.892,0.894,0.896,0.898,0.900,0.902,0.904,0.906,0.908,0.910,0.912,0.914,0.916,0.918,0.920,0.922]}},
  "text":{"field":"t"}}},
{"data":{"name":"header"},"mark":{"type":"text","fontSize":4.5,"align":"left","baseline":"middle","color":"#333333"},
 "encoding":{
  "x":{"field":"i","type":"quantitative","scale":{"domain":[-0.5,245.5],"nice":false,"zero":false,"padding":0},"axis":{"orient":"bottom","title":null,"values":[0.3,6.5,12.3,21.7,27.9,37,43.1,52.5,58.7,64.8,71,77.1,83.3,89.7,98.5,104.7,113.8,120,128.8,135.7,144.8,151,160.6,166.5,175.6,181.2,188.2,194.1,200.3,206.4,215.8,222.2,231,237.2],"labelExpr":"['3','7','9','14','16','21','23','28','30','Nov','5','7','11','13','18','20','25','27','Dec','4','9','11','16','18','23','25','27','2025','3','7','10','14','17','21'][indexof([0.3,6.5,12.3,21.7,27.9,37,43.1,52.5,58.7,64.8,71,77.1,83.3,89.7,98.5,104.7,113.8,120,128.8,135.7,144.8,151,160.6,166.5,175.6,181.2,188.2,194.1,200.3,206.4,215.8,222.2,231,237.2], datum.value)]"}},
  "y":{"field":"p","type":"quantitative","scale":{"domain":[0.83962,0.92472],"nice":false,"zero":false,"padding":0},"axis":{"orient":"right","title":"CHF","format":".5f","values":[0.840,0.842,0.844,0.846,0.848,0.850,0.852,0.854,0.856,0.858,0.860,0.862,0.864,0.866,0.868,0.870,0.872,0.874,0.876,0.878,0.880,0.882,0.884,0.886,0.888,0.890,0.892,0.894,0.896,0.898,0.900,0.902,0.904,0.906,0.908,0.910,0.912,0.914,0.916,0.918,0.920,0.922]}},
  "text":{"field":"t"}}},
{"data":{"name":"marks"},"mark":{"type":"point","filled":true,"size":2,"color":"#333333"},
 "encoding":{
  "x":{"field":"i","type":"quantitative","scale":{"domain":[-0.5,245.5],"nice":false,"zero":false,"padding":0},"axis":{"orient":"bottom","title":null,"values":[0.3,6.5,12.3,21.7,27.9,37,43.1,52.5,58.7,64.8,71,77.1,83.3,89.7,98.5,104.7,113.8,120,128.8,135.7,144.8,151,160.6,166.5,175.6,181.2,188.2,194.1,200.3,206.4,215.8,222.2,231,237.2],"labelExpr":"['3','7','9','14','16','21','23','28','30','Nov','5','7','11','13','18','20','25','27','Dec','4','9','11','16','18','23','25','27','2025','3','7','10','14','17','21'][indexof([0.3,6.5,12.3,21.7,27.9,37,43.1,52.5,58.7,64.8,71,77.1,83.3,89.7,98.5,104.7,113.8,120,128.8,135.7,144.8,151,160.6,166.5,175.6,181.2,188.2,194.1,200.3,206.4,215.8,222.2,231,237.2], datum.value)]"}},
  "y":{"field":"p","type":"quantitative","scale":{"domain":[0.83962,0.92472],"nice":false,"zero":false,"padding":0},"axis":{"orient":"right","title":"CHF","format":".5f","values":[0.840,0.842,0.844,0.846,0.848,0.850,0.852,0.854,0.856,0.858,0.860,0.862,0.864,0.866,0.868,0.870,0.872,0.874,0.876,0.878,0.880,0.882,0.884,0.886,0.888,0.890,0.892,0.894,0.896,0.898,0.900,0.902,0.904,0.906,0.908,0.910,0.912,0.914,0.916,0.918,0.920,0.922]}}}},
{"data":{"name":"icon"},"mark":{"type":"point","filled":false,"size":28,"color":"#9c27b0","strokeWidth":0.8},
 "encoding":{
  "x":{"field":"i","type":"quantitative","scale":{"domain":[-0.5,245.5],"nice":false,"zero":false,"padding":0},"axis":{"orient":"bottom","title":null,"values":[0.3,6.5,12.3,21.7,27.9,37,43.1,52.5,58.7,64.8,71,77.1,83.3,89.7,98.5,104.7,113.8,120,128.8,135.7,144.8,151,160.6,166.5,175.6,181.2,188.2,194.1,200.3,206.4,215.8,222.2,231,237.2],"labelExpr":"['3','7','9','14','16','21','23','28','30','Nov','5','7','11','13','18','20','25','27','Dec','4','9','11','16','18','23','25','27','2025','3','7','10','14','17','21'][indexof([0.3,6.5,12.3,21.7,27.9,37,43.1,52.5,58.7,64.8,71,77.1,83.3,89.7,98.5,104.7,113.8,120,128.8,135.7,144.8,151,160.6,166.5,175.6,181.2,188.2,194.1,200.3,206.4,215.8,222.2,231,237.2], datum.value)]"}},
  "y":{"field":"p","type":"quantitative","scale":{"domain":[0.83962,0.92472],"nice":false,"zero":false,"padding":0},"axis":{"orient":"right","title":"CHF","format":".5f","values":[0.840,0.842,0.844,0.846,0.848,0.850,0.852,0.854,0.856,0.858,0.860,0.862,0.864,0.866,0.868,0.870,0.872,0.874,0.876,0.878,0.880,0.882,0.884,0.886,0.888,0.890,0.892,0.894,0.896,0.898,0.900,0.902,0.904,0.906,0.908,0.910,0.912,0.914,0.916,0.918,0.920,0.922]}}}}
]
}
